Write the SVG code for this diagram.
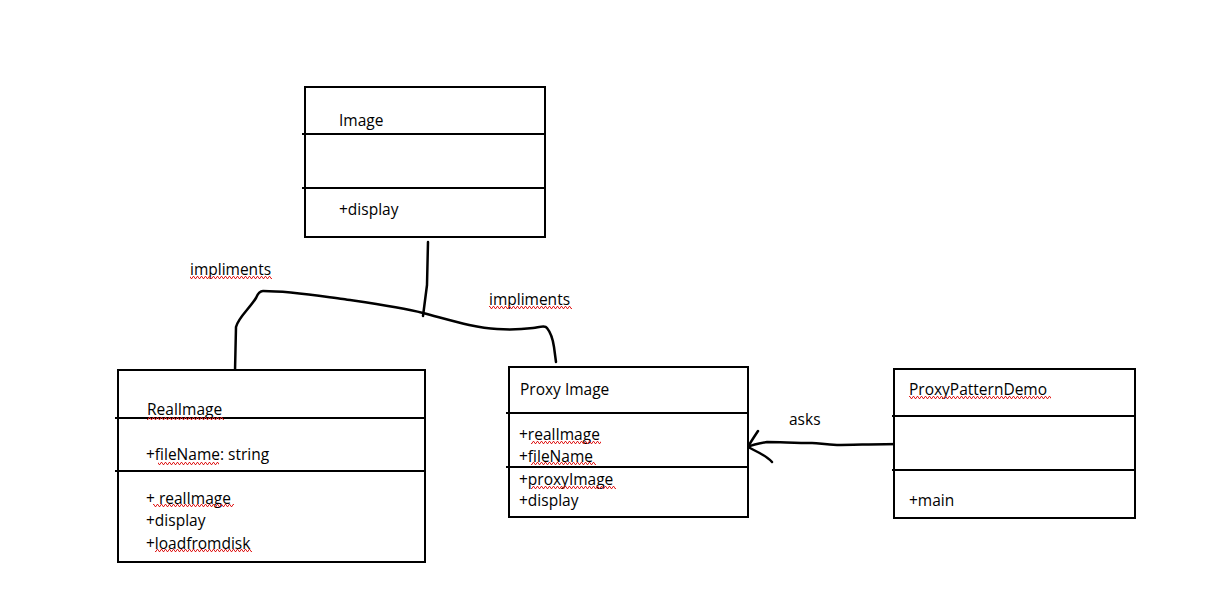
<svg xmlns="http://www.w3.org/2000/svg" width="1215" height="603" viewBox="0 0 1215 603">
<style>
.box{fill:#fff;stroke:#000;stroke-width:2}
.div{stroke:#000;stroke-width:2}
.t{font-family:"Open Sans","Liberation Sans",sans-serif;font-size:15.5px;fill:#000}
.con{fill:none;stroke:#000;stroke-width:2.5;stroke-linecap:round;stroke-linejoin:round}
.sq{fill:url(#sq)}
</style>
<defs>
<pattern id="sq" width="4" height="3" patternUnits="userSpaceOnUse">
<path d="M0,2.5 L1,0.5 L2,0.5 L3,2.5 L4,2.5" fill="none" stroke="#e02020" stroke-width="1"/>
</pattern>
</defs>
<rect width="1215" height="603" fill="#fff"/>
<g id="connectors">
<path class="con" d="M428,242 L427,285 L423,316"/>
<path class="con" d="M235,371 L236,327 C238,318 250,308 256,298 C258,293 260,291 263,291 C290,291 320,296 343,299 C370,303 400,307 423,313 C450,320 475,328 497,329 C510,330 525,329 533,328 C540,327 545,325 547,328 C551,333 553,340 554,347 L556,362"/>
<path class="con" d="M900,444 C880,444 850,445 837,445 C825,445 820,443 812,443 C795,443 780,442 767,442 C760,443 752,445 748,447"/>
<path class="con" d="M758,431 C754,437 750,443 748,447 C755,451 766,455 772,462"/>
</g>
<g id="labels">
<text class="t" x="190" y="275">impliments</text>
<rect class="sq" x="190" y="276" width="82" height="3"/>
<text class="t" x="489" y="305">impliments</text>
<rect class="sq" x="489" y="306" width="83" height="3"/>
<text class="t" x="789" y="425">asks</text>
</g>
<g id="image">
<rect class="box" x="305" y="87" width="240" height="150"/>
<line class="div" x1="302" y1="134" x2="545" y2="134"/>
<line class="div" x1="302" y1="188" x2="545" y2="188"/>
<text class="t" x="339" y="126">Image</text>
<text class="t" x="339" y="215">+display</text>
</g>
<g id="realimage">
<rect class="box" x="118" y="370" width="307" height="192"/>
<line class="div" x1="115" y1="418" x2="425" y2="418"/>
<line class="div" x1="115" y1="471" x2="425" y2="471"/>
<text class="t" x="147" y="415">RealImage</text>
<rect class="sq" x="147" y="417" width="77" height="3"/>
<text class="t" x="146" y="460">+fileName: string</text>
<rect class="sq" x="158" y="462" width="61" height="3"/>
<text class="t" x="146" y="504">+ realImage</text>
<rect class="sq" x="153" y="504" width="81" height="3"/>
<text class="t" x="146" y="526">+display</text>
<text class="t" x="146" y="549">+loadfromdisk</text>
<rect class="sq" x="155" y="549" width="97" height="3"/>
</g>
<g id="proxyimage">
<rect class="box" x="509" y="367" width="239" height="150"/>
<line class="div" x1="506" y1="413" x2="748" y2="413"/>
<line class="div" x1="506" y1="467" x2="747" y2="467"/>
<text class="t" x="520" y="395">Proxy Image</text>
<text class="t" x="519" y="440">+realImage</text>
<rect class="sq" x="531" y="441" width="70" height="3"/>
<text class="t" x="519" y="462">+fileName</text>
<rect class="sq" x="531" y="462" width="65" height="3"/>
<text class="t" x="519" y="485">+proxyImage</text>
<rect class="sq" x="531" y="486" width="85" height="3"/>
<text class="t" x="519" y="506">+display</text>
</g>
<g id="proxypatterndemo">
<rect class="box" x="894" y="369" width="241" height="149"/>
<line class="div" x1="892" y1="416" x2="1135" y2="416"/>
<line class="div" x1="892" y1="470" x2="1135" y2="470"/>
<text class="t" x="909" y="395">ProxyPatternDemo</text>
<rect class="sq" x="909" y="396" width="142" height="3"/>
<text class="t" x="909" y="506">+main</text>
</g>
</svg>
